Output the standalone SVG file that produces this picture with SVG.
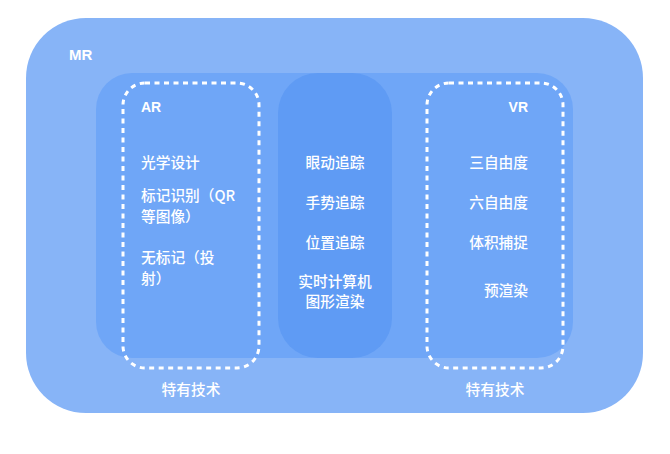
<svg xmlns="http://www.w3.org/2000/svg" width="670" height="454" viewBox="0 0 670 454">
<style>
.t{font-family:"Noto Sans CJK SC","Liberation Sans",sans-serif;font-size:14.7px;font-weight:500;fill:#fff}
.b{font-family:"Liberation Sans","Noto Sans CJK SC",sans-serif;font-weight:bold;fill:#fff}
.dash{fill:none;stroke:#fff;stroke-width:3;stroke-dasharray:5 4.5}
</style>
<rect width="670" height="454" fill="#fff"/>
<g id="mr">
<rect x="26" y="18" width="617" height="395" rx="60" ry="60" fill="#87b4f7"/>
<text class="b" x="69" y="60" font-size="15">MR</text>
</g>
<g id="inner">
<rect x="96" y="73" width="477" height="285" rx="36" ry="36" fill="#6fa6f7"/>
</g>
<g id="common">
<rect x="278" y="73" width="114" height="285" rx="40" ry="40" fill="#5f9bf4"/>
<text class="t" x="335" y="168" text-anchor="middle">眼动追踪</text>
<text class="t" x="335" y="208" text-anchor="middle">手势追踪</text>
<text class="t" x="335" y="248" text-anchor="middle">位置追踪</text>
<text class="t" x="335" y="287" text-anchor="middle">实时计算机</text>
<text class="t" x="335" y="307" text-anchor="middle">图形渲染</text>
</g>
<g id="ar">
<rect class="dash" x="123" y="83" width="136" height="285" rx="22" ry="22"/>
<text class="b" x="141" y="112" font-size="14">AR</text>
<text class="t" x="141" y="168">光学设计</text>
<text class="t" x="141" y="201">标记识别（QR</text>
<text class="t" x="141" y="222">等图像）</text>
<text class="t" x="141" y="263">无标记（投</text>
<text class="t" x="141" y="284">射）</text>
<text class="t" x="191" y="395" text-anchor="middle">特有技术</text>
</g>
<g id="vr">
<rect class="dash" x="427" y="83" width="136" height="285" rx="22" ry="22"/>
<text class="b" x="528" y="112" font-size="14" text-anchor="end">VR</text>
<text class="t" x="528" y="168" text-anchor="end">三自由度</text>
<text class="t" x="528" y="208" text-anchor="end">六自由度</text>
<text class="t" x="528" y="248" text-anchor="end">体积捕捉</text>
<text class="t" x="528" y="296" text-anchor="end">预渲染</text>
<text class="t" x="495" y="395" text-anchor="middle">特有技术</text>
</g>
<g id="connectors"></g>
</svg>
